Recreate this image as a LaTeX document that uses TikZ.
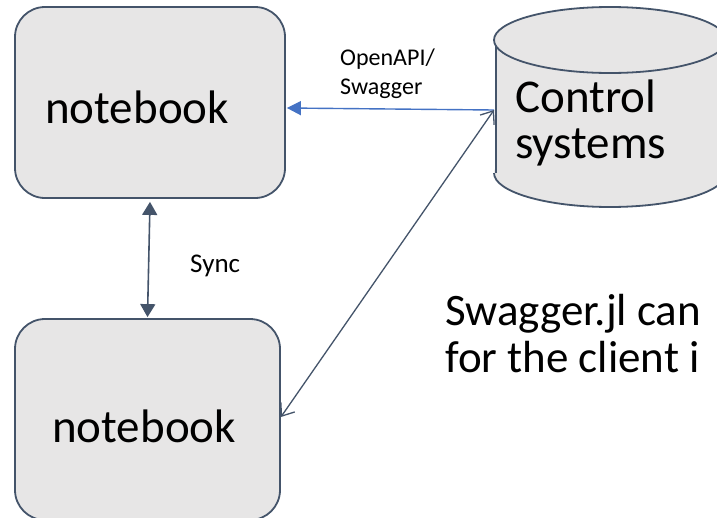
\documentclass[tikz,border=0pt]{standalone}
\usepackage{fontspec}
\setmainfont{Carlito}
\usetikzlibrary{arrows.meta}
\definecolor{boxfill}{HTML}{E7E6E6}
\definecolor{edgecol}{HTML}{44546A}
\definecolor{bluecol}{HTML}{4472C4}
\begin{document}
\begin{tikzpicture}[x=1pt,y=-1pt,line join=round]
\tikzset{
  nbbox/.style={draw=edgecol,fill=boxfill,line width=1.8pt,rounded corners=30pt,inner sep=0pt},
  bigtext/.style={font=\fontsize{47}{47}\selectfont,inner sep=0pt,anchor=base west},
  smalltext/.style={font=\fontsize{24}{29}\selectfont,inner sep=0pt,align=left},
  syncarrow/.style={draw=edgecol,line width=1.6pt,{Triangle[length=13pt,width=15pt]}-{Triangle[length=13pt,width=15pt]}},
  bluearrow/.style={draw=bluecol,line width=1.4pt,-{Triangle[length=14pt,width=14pt]}},
  diagarrow/.style={draw=edgecol,line width=1.3pt,{Straight Barb[length=11pt,width=17pt]}-{Straight Barb[length=11pt,width=17pt]}},
  cylline/.style={draw=edgecol,line width=1.8pt}
}
\useasboundingbox (0,0) rectangle (717,517);
\clip (0,0) rectangle (717,517);
\fill[white] (0,0) rectangle (717,517);
% boxes
\node[nbbox,minimum width=270pt,minimum height=191pt] (nb1) at (150,102.5) {};
\node[nbbox,minimum width=265pt,minimum height=201pt] (nb2) at (147.5,419.5) {};
\node[bigtext] (nb1t) at (45,123) {notebook};
\node[bigtext] (nb2t) at (52,442) {notebook};
% cylinder
\fill[boxfill] (496,40) rectangle (730,173);
\fill[boxfill] (610,173) ellipse [x radius=116, y radius=34];
\draw[cylline] (496,40) -- (496,173);
\begin{scope}
  \clip (480,173) rectangle (740,230);
  \draw[cylline] (610,173) ellipse [x radius=116, y radius=34];
\end{scope}
\filldraw[cylline,fill=boxfill] (610,40) ellipse [x radius=116, y radius=33];
\node[bigtext] (cylt1) at (515,112) {Control};
\node[bigtext] (cylt2) at (515,158) {systems};
\coordinate (cyl) at (494,110);
% connectors
\draw[syncarrow] ([yshift=-3pt]nb1.south) -- ([yshift=1pt]nb2.north);
\draw[bluearrow] (cyl) -- ([yshift=-5.5pt,xshift=1pt]nb1.east);
\draw[diagarrow] (cyl) -- ([yshift=2.5pt]nb2.east);
% labels
\node[smalltext,anchor=base west] (api) at (340,94) {OpenAPI/\\Swagger};
\node[font=\fontsize{27}{27}\selectfont,inner sep=0pt,anchor=base west] (sync) at (190,272) {Sync};
\node[bigtext,font=\fontsize{45}{47}\selectfont] (sw1) at (445,325) {Swagger.jl can};
\node[bigtext,font=\fontsize{45}{47}\selectfont] (sw2) at (445,372) {for the client i};
\end{tikzpicture}
\end{document}
